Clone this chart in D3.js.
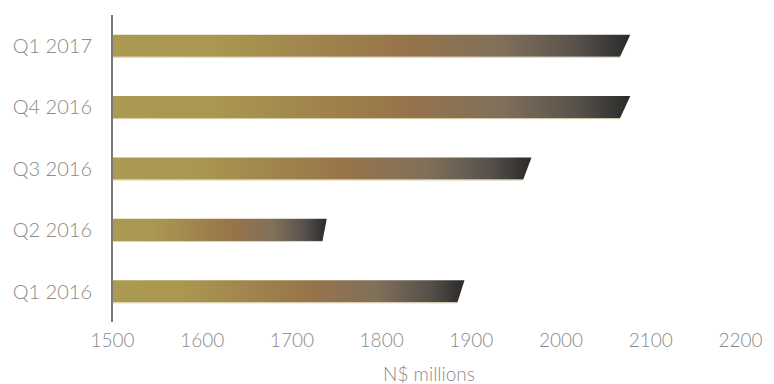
<!DOCTYPE html>
<html>
<head>
<meta charset="utf-8">
<script src="https://cdn.jsdelivr.net/npm/d3@7"></script>
<style>
  body { margin: 0; background: #fff; }
  text { font-family: Lato, "Open Sans", sans-serif; font-weight: 300; fill: #8a8a8a; }
</style>
</head>
<body>
<div id="chart"></div>
<script>
// values, top bar first
const quarters = ["Q1 2017", "Q4 2016", "Q3 2016", "Q2 2016", "Q1 2016"];
const amounts = [2072, 2072, 1963, 1737, 1889];
const xTicks = [1500, 1600, 1700, 1800, 1900, 2000, 2100, 2200];
const axisTitle = "N$ millions";

const width = 774;
const height = 384;

const svg = d3.select("#chart").append("svg")
    .attr("width", width)
    .attr("height", height)
    .attr("viewBox", [0, 0, width, height]);

const x = d3.scaleLinear()
    .domain([1500, 2200])
    .range([112, 740]);

const y = d3.scaleBand()
    .domain(quarters)
    .range([15, 322])
    .paddingInner(0.64)
    .paddingOuter(0.32);

// gold -> brown -> charcoal, stretched over each bar
const grad = svg.append("defs").append("linearGradient")
    .attr("id", "barfill")
    .attr("x1", "0%").attr("x2", "100%")
    .attr("y1", "0%").attr("y2", "0%");
grad.selectAll("stop")
    .data([
        [0, "#ab9a51"], [0.2, "#aa9750"], [0.56, "#97744a"],
        [0.75, "#80705a"], [0.9, "#57514b"], [1, "#2a2a2a"]
    ])
    .join("stop")
        .attr("offset", d => d[0])
        .attr("stop-color", d => d[1]);

// the cut at the bar end grows with the bar's length
function barPath(d, i) {
    const y0 = y(quarters[i]);
    const y1 = y0 + y.bandwidth();
    const xe = x(d);
    const s = (xe - x(1500)) * 0.01;
    return `M${x(1500)},${y0}L${xe + s},${y0}L${xe - s},${y1}L${x(1500)},${y1}Z`;
}

svg.append("g")
    .selectAll("path")
    .data(amounts)
    .join("path")
        .attr("d", barPath)
        .attr("fill", "url(#barfill)");

// thin light edge under each bar
svg.append("g")
    .selectAll("line")
    .data(amounts)
    .join("line")
        .attr("x1", x(1500))
        .attr("x2", d => x(d) - (x(d) - x(1500)) * 0.01)
        .attr("y1", (d, i) => y(quarters[i]) + y.bandwidth() + 0.5)
        .attr("y2", (d, i) => y(quarters[i]) + y.bandwidth() + 0.5)
        .attr("stroke", "#c9bd8e")
        .attr("stroke-opacity", 0.7)
        .attr("stroke-width", 1);

// category axis
const yAxis = svg.append("g")
    .attr("transform", `translate(${x(1500)},0)`)
    .call(d3.axisLeft(y).tickSize(0).tickPadding(20));
yAxis.select(".domain")
    .attr("d", "M0,15V322")
    .attr("stroke", "#7a7a7a")
    .attr("stroke-width", 2);
yAxis.selectAll("text")
    .attr("font-size", 20)
    .attr("dy", "0.36em")
    .attr("fill", "#8c8c8c")
    .style("font-family", "Lato, sans-serif");

// value axis, labels only
const xAxis = svg.append("g")
    .attr("transform", "translate(0,322)")
    .call(d3.axisBottom(x).tickValues(xTicks).tickFormat(d3.format("d")).tickSize(0).tickPadding(12));
xAxis.select(".domain").remove();
xAxis.selectAll("text")
    .attr("font-size", 19)
    .attr("dy", "0.71em")
    .attr("fill", "#8c8c8c")
    .style("font-family", "Lato, sans-serif");

svg.append("text")
    .attr("x", 429)
    .attr("y", 381)
    .attr("text-anchor", "middle")
    .attr("font-size", 19)
    .text(axisTitle);
</script>
</body>
</html>
